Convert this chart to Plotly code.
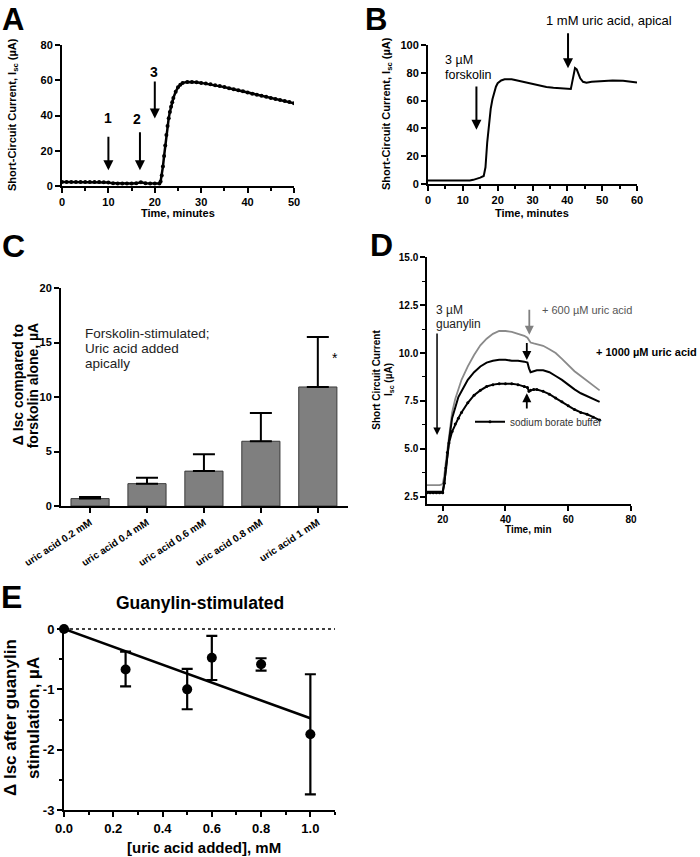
import plotly.graph_objects as go

W, H = 700, 857
FONT = "Liberation Sans, Arial, sans-serif"

# ---------------- Panel A data ----------------
a_t = [0, 1, 2, 3, 4, 5, 6, 7, 8, 9, 10, 11, 12, 13, 14, 15, 16, 17, 18, 19, 20, 21,
       21.25, 21.5, 21.75, 22, 22.25, 22.5, 22.75, 23, 23.25, 23.5, 23.75, 24, 24.5,
       25, 25.5, 26, 27, 28, 29, 30, 31, 32, 33, 34, 35, 36, 37, 38, 39, 40, 41, 42,
       43, 44, 45, 46, 47, 48, 49, 50]
a_isc = [2.2, 2.2, 2.2, 2.2, 2.2, 2.2, 2.2, 2.2, 2.2, 2.1, 2.0, 1.5, 1.4, 1.4, 1.4, 1.4,
         1.5, 2.1, 1.6, 1.4, 1.4, 1.4,
         2.5, 6, 11, 17, 23, 29, 34, 38.5, 42, 45, 47.5, 50, 53.5,
         56, 57.5, 58.5, 59, 59, 58.8, 58.5, 58.1, 57.7, 57.2, 56.7, 56.1, 55.5, 54.9, 54.3,
         53.7, 53.1, 52.4, 51.8, 51.2, 50.6, 50.0, 49.4, 48.8, 48.2, 47.6, 47.0]

# ---------------- Panel B data ----------------
b_t = [0, 5, 10, 12, 13, 14, 15, 16, 16.5, 17, 17.5, 18, 18.5, 19, 19.5, 20, 21, 22, 23,
       24, 25, 26, 28, 30, 32, 34, 36, 38, 40, 41, 41.3, 41.7, 42.2, 42.7, 43.2, 43.7,
       44.5, 45.5, 47, 50, 53, 56, 58, 60]
b_isc = [2.5, 2.4, 2.4, 2.6, 3.0, 3.6, 4.6, 5.8, 12, 30, 44, 54, 61, 66, 70, 72.5, 74.5,
         75.3, 75.5, 75.3, 74.8, 74.2, 73.0, 71.8, 70.7, 69.8, 69.2, 68.8, 68.5, 68.4, 72,
         78, 83.5, 82.5, 79, 76, 73.5, 72.8, 73.5, 74.2, 74.5, 74.2, 73.8, 73.0]

# ---------------- Panel C data ----------------
c_cats = ["uric acid 0.2 mM", "uric acid 0.4 mM", "uric acid 0.6 mM",
          "uric acid 0.8 mM", "uric acid 1 mM"]
c_vals = [0.68, 2.05, 3.2, 5.94, 10.92]
c_err = [0.15, 0.55, 1.54, 2.59, 4.58]

# ---------------- Panel D data ----------------
d_t = [15, 16, 17, 18, 19, 20, 20.5, 21, 21.5, 22, 23, 24, 25, 26, 28, 30, 32, 34, 36,
       38, 40, 42, 44, 46, 47, 47.5, 48, 49, 50, 52, 54, 56, 58, 60, 62, 64, 66, 68, 70]
d_600 = [3.1, 3.1, 3.1, 3.1, 3.1, 3.15, 3.6, 4.3, 5.0, 5.6, 6.9, 7.6, 8.1, 8.6, 9.3, 9.9,
         10.4, 10.75, 11.0, 11.15, 11.15, 11.1, 11.0, 10.9, 10.8, 10.65, 10.55, 10.5,
         10.45, 10.38, 10.2, 10.0, 9.7, 9.35, 9.05, 8.8, 8.55, 8.3, 8.05]
d_1000 = [2.75, 2.75, 2.75, 2.75, 2.75, 2.75, 3.2, 4.0, 4.8, 5.4, 6.6, 7.2, 7.7, 8.0, 8.6,
          9.0, 9.3, 9.5, 9.6, 9.65, 9.65, 9.6, 9.6, 9.55, 9.5, 9.2, 9.0, 9.05, 9.1, 9.1,
          9.0, 8.8, 8.6, 8.35, 8.1, 7.9, 7.75, 7.6, 7.45]
d_buffer = [2.7, 2.7, 2.7, 2.7, 2.7, 2.7, 3.2, 4.0, 4.8, 5.3, 5.9, 6.3, 6.6, 6.9, 7.4, 7.8,
            8.05, 8.25, 8.35, 8.4, 8.4, 8.4, 8.35, 8.25, 8.2, 8.0, 8.05, 8.1, 8.1, 8.0,
            7.85, 7.65, 7.45, 7.25, 7.05, 6.9, 6.8, 6.65, 6.5]

# ---------------- Panel E data ----------------
e_x = [0, 0.25, 0.5, 0.6, 0.8, 1.0]
e_y = [0, -0.67, -1.0, -0.475, -0.585, -1.745]
e_up = [None, 0.295, 0.34, 0.36, 0.1, 0.995]
e_down = [None, 0.28, 0.33, 0.37, 0.105, 0.995]
fit_x = [0, 1.0]
fit_y = [0, -1.48]


def px(X):
    return X / W


def py(Y):
    return 1 - Y / H


def tfont(size, bold=True, color="black"):
    return dict(family=FONT, size=size, color=color, weight="bold" if bold else "normal")


def axis(xd=None, yd=None, lw=2, fs=11, **kw):
    d = dict(showline=True, linecolor="black", linewidth=lw, ticks="outside", ticklen=5,
             tickwidth=lw, tickcolor="black", showgrid=False, zeroline=False,
             tickfont=tfont(fs), fixedrange=True, automargin=False)
    if xd is not None:
        d["domain"] = [px(xd[0]), px(xd[1])]
    if yd is not None:
        d["domain"] = [py(yd[1]), py(yd[0])]
    d.update(kw)
    return d


fig = go.Figure()

# A
fig.add_trace(go.Scatter(x=a_t, y=a_isc, mode="lines+markers", xaxis="x", yaxis="y",
                         line=dict(color="black", width=2.5),
                         marker=dict(size=4, color="black"), showlegend=False))
# B
fig.add_trace(go.Scatter(x=b_t, y=b_isc, mode="lines", xaxis="x2", yaxis="y2",
                         line=dict(color="black", width=2), showlegend=False))
# C
fig.add_trace(go.Bar(x=c_cats, y=c_vals, xaxis="x3", yaxis="y3", width=0.67,
                     marker=dict(color="#7f7f7f", line=dict(color="#3a3a3a", width=1)),
                     error_y=dict(type="data", symmetric=False, array=c_err,
                                  arrayminus=[0] * len(c_err), color="black",
                                  thickness=2, width=11),
                     showlegend=False))
# D
fig.add_trace(go.Scatter(x=d_t, y=d_600, mode="lines", xaxis="x4", yaxis="y4",
                         line=dict(color="#8a8a8a", width=1.8), showlegend=False))
fig.add_trace(go.Scatter(x=d_t, y=d_1000, mode="lines", xaxis="x4", yaxis="y4",
                         line=dict(color="black", width=2), showlegend=False))
fig.add_trace(go.Scatter(x=d_t, y=d_buffer, mode="lines+markers", xaxis="x4", yaxis="y4",
                         name="sodium borate buffer",
                         line=dict(color="black", width=2),
                         marker=dict(size=3, color="black"), showlegend=True))
# E
fig.add_trace(go.Scatter(x=[0, 1.1], y=[0, 0], mode="lines", xaxis="x5", yaxis="y5",
                         line=dict(color="black", width=1.5, dash="dot"), showlegend=False))
fig.add_trace(go.Scatter(x=fit_x, y=fit_y, mode="lines", xaxis="x5", yaxis="y5",
                         line=dict(color="black", width=2.5), showlegend=False))
fig.add_trace(go.Scatter(x=e_x, y=e_y, mode="markers", xaxis="x5", yaxis="y5",
                         marker=dict(size=10, color="black"),
                         error_y=dict(type="data", symmetric=False, array=e_up,
                                      arrayminus=e_down, color="black", thickness=2.2,
                                      width=5.5),
                         showlegend=False, cliponaxis=False))

minor_common = dict(ticks="outside", ticklen=3, tickwidth=1.5, tickcolor="black", showgrid=False)

fig.update_layout(
    width=W, height=H, margin=dict(l=0, r=0, t=0, b=0, autoexpand=False),
    paper_bgcolor="white", plot_bgcolor="white",
    font=dict(family=FONT, color="black"),
    # A
    xaxis=axis(xd=(62, 294), anchor="y", range=[0, 50], tick0=0, dtick=10,
               minor=dict(dtick=5, **minor_common)),
    yaxis=axis(yd=(45, 186), anchor="x", range=[0, 80], tick0=0, dtick=20),
    # B
    xaxis2=axis(xd=(428, 637), anchor="y2", range=[0, 60], tick0=0, dtick=10,
                minor=dict(dtick=5, **minor_common)),
    yaxis2=axis(yd=(45, 184), anchor="x2", range=[0, 100], tick0=0, dtick=20),
    # C
    xaxis3=axis(xd=(61, 348), anchor="y3", range=[-0.51, 4.53], tickangle=-33,
                fs=10),
    yaxis3=axis(yd=(288, 506), anchor="x3", range=[0, 20], tick0=0, dtick=5),
    # D
    xaxis4=axis(xd=(427, 631), anchor="y4", range=[15, 80], tick0=0, dtick=20,
                lw=1.5, fs=10),
    yaxis4=axis(yd=(257.3, 504.3), anchor="x4", range=[2.1, 15], tick0=2.5, dtick=2.5,
                tickformat=".1f", lw=1.5, fs=10,
                minor=dict(dtick=1.25, ticks="outside", ticklen=3, tickwidth=1,
                           tickcolor="black", showgrid=False)),
    # E
    xaxis5=axis(xd=(64, 335), anchor="y5", range=[0, 1.1], tick0=0, dtick=0.2,
                tickformat=".1f", fs=13,
                minor=dict(dtick=0.1, **minor_common)),
    yaxis5=axis(yd=(626.6, 810), anchor="x5", range=[-3, 0.04],
                tickvals=[0, -1, -2, -3], ticktext=["0", "-1", "-2", "-3"], fs=13,
                minor=dict(tickvals=[-0.5, -1.5, -2.5], **minor_common)),
    legend=dict(x=px(470), y=py(421.7), xanchor="left", yanchor="middle",
                bgcolor="rgba(0,0,0,0)", font=dict(family=FONT, size=10, color="#333"),
                itemwidth=30, borderwidth=0),
    bargap=0.3,
)

ann = []


def label(X, Y, text, size, bold=True, color="black", angle=0, xanchor="center",
          yanchor="middle"):
    ann.append(dict(x=px(X), y=py(Y), xref="paper", yref="paper", text=text,
                    showarrow=False, font=tfont(size, bold, color), textangle=angle,
                    xanchor=xanchor, yanchor=yanchor))


def arrow(xa, ya, x, y_head, y_tail, width=2, color="black"):
    ann.append(dict(x=x, y=y_head, ax=x, ay=y_tail, xref=xa, yref=ya, axref=xa, ayref=ya,
                    text="", showarrow=True, arrowhead=2, arrowsize=1, arrowwidth=width,
                    arrowcolor=color))


# panel letters
label(13, 0, "A", 31, yanchor="top")
label(376, 0, "B", 31, yanchor="top")
for lt, X, Y in [("C", 13, 246), ("D", 381, 245), ("E", 11, 597)]:
    label(X, Y, lt, 32)

# A
label(13, 115, "Short-Circuit Current, I<sub>sc</sub> (µA)", 11, angle=-90)
label(178, 213, "Time, minutes", 11)
label(108, 118, "1", 14)
label(137, 119, "2", 14)
label(154, 72, "3", 14)
arrow("x", "y", 10, 8.9, 28.8)
arrow("x", "y", 16.8, 8.9, 31.3)
arrow("x", "y", 20, 38.3, 60.1)

# B
label(387, 114, "Short-Circuit Current, I<sub>sc</sub> (µA)", 11, angle=-90)
label(532, 213, "Time, minutes", 11)
label(609, 21, "1 mM uric acid, apical", 13, bold=False)
label(443, 60.3, "3 µM", 12.5, bold=False, xanchor="left")
label(443, 74.8, "forskolin", 12.5, bold=False, xanchor="left")
arrow("x2", "y2", 40.2, 83.3, 109.5)
arrow("x2", "y2", 13.9, 39, 71.3)

# C
label(18.3, 385, "Δ Isc compared to", 14, angle=-90)
label(33.3, 385, "forskolin alone, µA", 14, angle=-90)
label(83, 333.5, "Forskolin-stimulated;", 13.5, bold=False, color="#222", xanchor="left")
label(83, 348.3, "Uric acid added", 13.5, bold=False, color="#222", xanchor="left")
label(83, 363, "apically", 13.5, bold=False, color="#222", xanchor="left")
label(335, 358, "*", 14, bold=False)

# D
label(376.7, 380, "Short Circuit Current", 10, angle=-90)
label(389, 380, "I<sub>sc</sub> (µA)", 10, angle=-90)
label(528, 529, "Time, min", 10)
label(434, 310, "3 µM", 12, bold=False, color="#222", xanchor="left")
label(434, 323.5, "guanylin", 12, bold=False, color="#222", xanchor="left")
label(540, 310, "+ 600 µM uric acid", 11, bold=False, color="#555", xanchor="left")
label(699, 351.7, "+ 1000 µM uric acid", 11, xanchor="right")
arrow("x4", "y4", 18.2, 5.72, 11.1, width=1.5)
arrow("x4", "y4", 47.6, 10.95, 12.34, width=1.8, color="#808080")
arrow("x4", "y4", 46.8, 9.64, 10.6, width=1.8)
arrow("x4", "y4", 46.8, 7.9, 7.03, width=1.8)

# E
label(200, 603, "Guanylin-stimulated", 17.5)
label(204, 847, "[uric acid added], mM", 15)
label(10, 718, "Δ Isc after guanylin", 17, angle=-90)
label(33, 718, "stimulation, µA", 17, angle=-90)

fig.update_layout(annotations=ann)

fig.write_html("out.html", config={"displayModeBar": False},
               post_script="document.body.style.margin='0';document.body.style.padding='0';")
